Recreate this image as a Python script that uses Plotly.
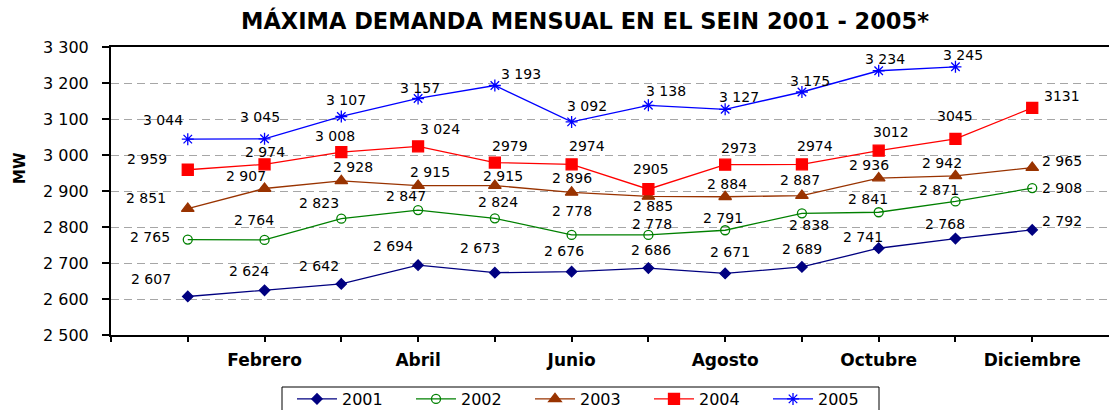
import plotly.graph_objects as go

# ---------------- data ----------------
months = ["Enero", "Febrero", "Marzo", "Abril", "Mayo", "Junio", "Julio",
          "Agosto", "Septiembre", "Octubre", "Noviembre", "Diciembre"]

y_ticks = [2500, 2600, 2700, 2800, 2900, 3000, 3100, 3200, 3300]
y_tick_labels = ["2 500", "2 600", "2 700", "2 800", "2 900",
                 "3 000", "3 100", "3 200", "3 300"]

years = ["2001", "2002", "2003", "2004", "2005"]

d2001 = [2607, 2624, 2642, 2694, 2673, 2676, 2686, 2671, 2689, 2741, 2768, 2792]
d2002 = [2765, 2764, 2823, 2847, 2824, 2778, 2778, 2791, 2838, 2841, 2871, 2908]
d2003 = [2851, 2907, 2928, 2915, 2915, 2896, 2885, 2884, 2887, 2936, 2942, 2965]
d2004 = [2959, 2974, 3008, 3024, 2979, 2974, 2905, 2973, 2974, 3012, 3045, 3131]
d2005 = [3044, 3045, 3107, 3157, 3193, 3092, 3138, 3127, 3175, 3234, 3245]

series = [d2001, d2002, d2003, d2004, d2005]

# thousands separator used in each point label (2004 loses it after April)
sep_2004 = [" ", " ", " ", " ", "", "", "", "", "", "", "", ""]

# ---------------- styles ----------------
colors = ["#000080", "#008000", "#993300", "#FF0000", "#0000FF"]
symbols = ["diamond", "circle-open", "triangle-up", "square", "asterisk-open"]
msizes = [8, 9, 11, 11, 10]

# label offsets in pixels (dx right, dy down) relative to each point
off_2001 = [(-37, -17), (-16, -19), (-22, -18), (-25, -19), (-15, -25), (-8, -21),
            (3, -18), (5, -21), (0, -18), (-16, -11), (-10, -15), (30, -9)]
off_2002 = [(-38, -3), (-11, -20), (-22, -16), (-12, -14), (3, -16), (0, -24),
            (4, -11), (-2, -12), (7, 12), (-11, -13), (-16, -11), (30, 0)]
off_2003 = [(-42, -11), (-19, -12), (12, -14), (12, -14), (8, -10), (0, -14),
            (5, 10), (2, -13), (-2, -16), (-10, -13), (-13, -13), (30, -7)]
off_2004 = [(-41, -11), (0, -12), (-6, -16), (22, -17), (15, -17), (15, -18),
            (3, -20), (14, -17), (13, -18), (12, -19), (0, -23), (30, -12)]
off_2005 = [(-25, -19), (-5, -22), (5, -16), (2, -10), (26, -12), (15, -16),
            (18, -14), (14, -12), (8, -11), (6, -12), (8, -12)]
offsets = [off_2001, off_2002, off_2003, off_2004, off_2005]

FONT = "DejaVu Sans"

# plot-area geometry (pixels)
W, H = 1109, 410
L, R, T, B = 111, 0, 47, 75
PW, PH = W - L - R, H - T - B


def px_x(p):
    return (p - L) / PW


def px_y(p):
    return (T + PH - p) / PH


fig = go.Figure()
annotations = []

for k, (name, vals) in enumerate(zip(years, series)):
    xs = list(range(1, len(vals) + 1))
    fig.add_trace(go.Scatter(
        x=xs, y=vals, name=name, mode="lines+markers",
        line=dict(color=colors[k], width=1.3),
        marker=dict(symbol=symbols[k], size=msizes[k], color=colors[k],
                    line=dict(color=colors[k], width=1.3)),
    ))
    for i, v in enumerate(vals):
        s = " " if name != "2004" else sep_2004[i]
        txt = f"{v:,}".replace(",", s)
        dx, dy = offsets[k][i]
        annotations.append(dict(
            x=xs[i], y=v, xref="x", yref="y", text=txt, showarrow=False,
            xanchor="center", yanchor="middle", xshift=dx, yshift=-dy,
            font=dict(family=FONT, size=14, color="#000000"),
        ))

# y-axis title
annotations.append(dict(
    x=px_x(20), y=px_y(168), xref="paper", yref="paper",
    text="<b>MW</b>", showarrow=False, textangle=-90,
    font=dict(family=FONT, size=15, color="#000000"),
    xanchor="center", yanchor="middle",
))

ticktext_x = [""] + [m if i % 2 == 1 else "" for i, m in enumerate(months)]

fig.update_layout(
    width=W, height=H,
    margin=dict(l=L, r=R, t=T, b=B, autoexpand=False),
    paper_bgcolor="white", plot_bgcolor="white",
    title=dict(text="<b>MÁXIMA DEMANDA MENSUAL EN EL SEIN 2001 - 2005*</b>",
               x=585 / W, xref="container", xanchor="center",
               y=1 - 21 / H, yref="container", yanchor="middle",
               font=dict(family=FONT, size=22.5, color="#000000")),
    xaxis=dict(range=[0, 13], tickvals=list(range(0, 13)), ticktext=ticktext_x,
               showgrid=False, zeroline=False, showline=True, linecolor="black",
               linewidth=2, mirror=True, ticks="outside", ticklen=5,
               tickcolor="black", tickwidth=1.5, ticklabelstandoff=4,
               automargin=False,
               tickfont=dict(family=FONT, size=17, color="#000000", weight="bold")),
    yaxis=dict(range=[2500, 3300], tickvals=y_ticks, ticktext=y_tick_labels,
               showgrid=True, gridcolor="#a6a6a6", gridwidth=1, griddash="8px,5px",
               zeroline=False, showline=True, linecolor="black", linewidth=2,
               ticks="outside", ticklen=7, tickcolor="black", tickwidth=1.5,
               ticklabelstandoff=10, automargin=False,
               tickfont=dict(family=FONT, size=16, color="#000000")),
    legend=dict(orientation="h", x=px_x(292), y=px_y(382),
                xanchor="left", yanchor="top", borderwidth=0,
                bgcolor="rgba(0,0,0,0)",
                itemwidth=40, entrywidth=64, entrywidthmode="pixels",
                font=dict(family=FONT, size=16, color="#000000")),
    showlegend=True,
    annotations=annotations,
    shapes=[dict(type="rect", xref="paper", yref="paper",
                 x0=px_x(282), x1=px_x(879), y0=px_y(387), y1=px_y(420),
                 line=dict(color="black", width=1), fillcolor="rgba(0,0,0,0)")],
)

fig.write_html(
    "out.html",
    config={"displayModeBar": False},
    post_script="document.body.style.margin='0';document.body.style.overflow='hidden';",
)
